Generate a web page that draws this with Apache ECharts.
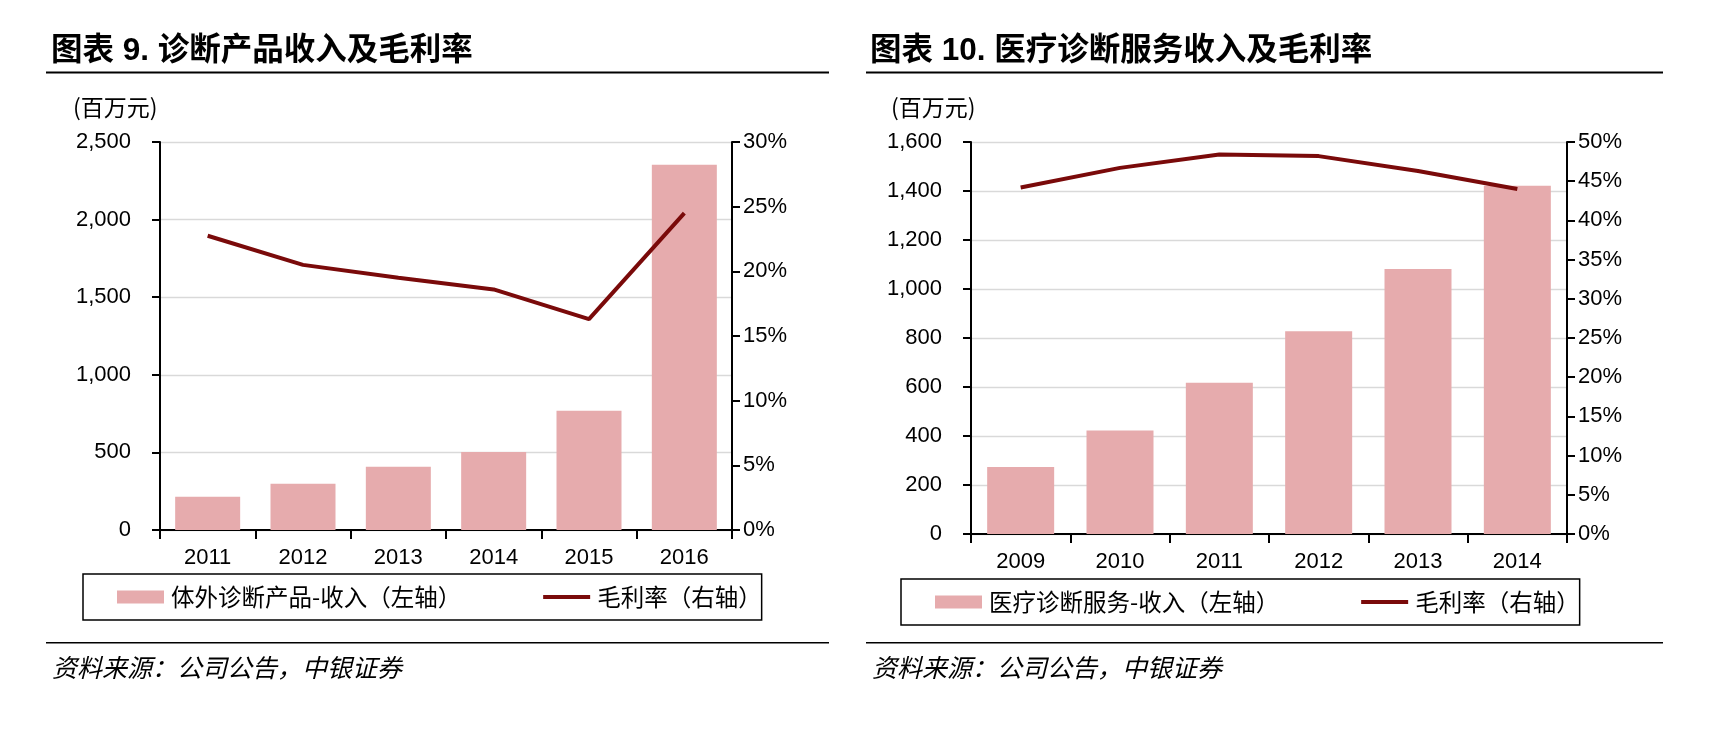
<!DOCTYPE html>
<html>
<head>
<meta charset="utf-8">
<script src="https://cdn.jsdelivr.net/npm/echarts@6/dist/echarts.min.js"></script>
<style>
html,body{margin:0;padding:0;background:#fff;}
#c{width:1720px;height:738px;}
</style>
</head>
<body>
<div id="c"></div>
<script>
// ---- data ----
const cats1 = ['2011', '2012', '2013', '2014', '2015', '2016'];
const rev1 = [214, 298, 408, 502, 768, 2354];
const margin1 = [22.75, 20.5, 19.5, 18.6, 16.3, 24.5];
const cats2 = ['2009', '2010', '2011', '2012', '2013', '2014'];
const rev2 = [273, 422, 617, 828, 1082, 1421];
const margin2 = [44.2, 46.7, 48.4, 48.2, 46.3, 44.0];
const title1 = '图表 9. 诊断产品收入及毛利率';
const title2 = '图表 10. 医疗诊断服务收入及毛利率';
const unitLabel = '(百万元)';
const source = '资料来源：公司公告，中银证券';
const barName1 = '体外诊断产品-收入（左轴）';
const barName2 = '医疗诊断服务-收入（左轴）';
const lineName = '毛利率（右轴）';
const leftAxis1 = {min: 0, max: 2500, interval: 500};
const rightAxis1 = {min: 0, max: 30, interval: 5};
const leftAxis2 = {min: 0, max: 1600, interval: 200};
const rightAxis2 = {min: 0, max: 50, interval: 5};

// ---- styles ----
const NUM_FONT = '"Liberation Sans", Arial, sans-serif';
const CJK_FONT = '"Noto Sans CJK SC", sans-serif';
const BAR_COLOR = '#E6ABAD';
const LINE_COLOR = '#7A0A0A';
const GRID_COLOR = '#D9D9D9';
const LINE_ICON = 'path://M0,0 L0,0 M0,4.5 L47,4.5 L47,8.5 L0,8.5 Z M47,13 L47,13';

const fmtThousands = v => String(v).replace(/\B(?=(\d{3})+(?!\d))/g, ',');

function leftY(gridIndex, cfg) {
  return {
    type: 'value', gridIndex, min: cfg.min, max: cfg.max, interval: cfg.interval,
    position: 'left',
    axisLine: {show: true, lineStyle: {color: '#000', width: 2}},
    axisTick: {show: true, length: 8, lineStyle: {color: '#000', width: 2}},
    axisLabel: {color: '#000', fontSize: 22, fontFamily: NUM_FONT, margin: 29, formatter: fmtThousands},
    splitLine: {show: true, lineStyle: {color: GRID_COLOR, width: 1.3}}
  };
}
function rightY(gridIndex, cfg) {
  return {
    type: 'value', gridIndex, min: cfg.min, max: cfg.max, interval: cfg.interval,
    position: 'right',
    axisLine: {show: true, lineStyle: {color: '#000', width: 2}},
    axisTick: {show: true, length: 8, lineStyle: {color: '#000', width: 2}},
    axisLabel: {color: '#000', fontSize: 22, fontFamily: NUM_FONT, margin: 11, formatter: v => v + '%'},
    splitLine: {show: false}
  };
}
function xCat(gridIndex, cats) {
  return {
    type: 'category', gridIndex, data: cats,
    axisLine: {show: true, lineStyle: {color: '#000', width: 2}},
    axisTick: {show: true, length: 9, lineStyle: {color: '#000', width: 2}},
    axisLabel: {color: '#000', fontSize: 22, fontFamily: NUM_FONT, margin: 17},
    splitLine: {show: false}
  };
}
function legendFor(left, top, barName) {
  return {
    left, top,
    orient: 'horizontal',
    padding: [11, 0, 11, 34],
    itemWidth: 47, itemHeight: 13, itemGap: 82,
    borderColor: '#000', borderWidth: 1.5, borderRadius: 0,
    selectedMode: false,
    textStyle: {fontSize: 23.5, lineHeight: 24, color: '#000', fontFamily: CJK_FONT, padding: [0, 0, 0, 2]},
    data: [{name: barName, icon: 'rect'}, {name: lineName, icon: LINE_ICON}]
  };
}

const chart = echarts.init(document.getElementById('c'), null, {renderer: 'canvas'});

const option = {
  animation: false,
  backgroundColor: '#fff',
  grid: [
    {left: 160, top: 142, width: 572, height: 388, containLabel: false},
    {left: 971, top: 142, width: 596, height: 392, containLabel: false}
  ],
  xAxis: [xCat(0, cats1), xCat(1, cats2)],
  yAxis: [leftY(0, leftAxis1), rightY(0, rightAxis1), leftY(1, leftAxis2), rightY(1, rightAxis2)],
  legend: [legendFor(83, 574, barName1), legendFor(901, 579, barName2)],
  series: [
    {name: barName1, type: 'bar', xAxisIndex: 0, yAxisIndex: 0, data: rev1, barWidth: 65,
     itemStyle: {color: BAR_COLOR}, z: 2},
    {name: lineName, type: 'line', xAxisIndex: 0, yAxisIndex: 1, data: margin1, symbol: 'none',
     lineStyle: {color: LINE_COLOR, width: 4}, itemStyle: {color: LINE_COLOR}, z: 3},
    {name: barName2, type: 'bar', xAxisIndex: 1, yAxisIndex: 2, data: rev2, barWidth: 67,
     itemStyle: {color: BAR_COLOR}, z: 2},
    {name: lineName, type: 'line', xAxisIndex: 1, yAxisIndex: 3, data: margin2, symbol: 'none',
     lineStyle: {color: LINE_COLOR, width: 4}, itemStyle: {color: LINE_COLOR}, z: 3}
  ],
  graphic: [
    {type: 'text', left: 51, top: 36, style: {text: title1, fontSize: 31.5, fontWeight: 'bold', fill: '#000',
      fontFamily: '"Liberation Sans", "Noto Sans CJK SC", sans-serif'}},
    {type: 'text', left: 870, top: 36, style: {text: title2, fontSize: 31.5, fontWeight: 'bold', fill: '#000',
      fontFamily: '"Liberation Sans", "Noto Sans CJK SC", sans-serif'}},
    {type: 'rect', shape: {x: 46, y: 71.5, width: 783, height: 2}, style: {fill: '#000'}},
    {type: 'rect', shape: {x: 866, y: 71.5, width: 797, height: 2}, style: {fill: '#000'}},
    {type: 'text', left: 73, top: 96, style: {text: unitLabel, fontSize: 23, fill: '#000', fontFamily: CJK_FONT}},
    {type: 'text', left: 891, top: 96, style: {text: unitLabel, fontSize: 23, fill: '#000', fontFamily: CJK_FONT}},
    {type: 'rect', shape: {x: 46, y: 642, width: 783, height: 1.5}, style: {fill: '#000'}},
    {type: 'rect', shape: {x: 866, y: 642, width: 797, height: 1.5}, style: {fill: '#000'}},
    {type: 'text', left: 52, top: 655, style: {text: source, fontSize: 25, fontStyle: 'italic', fill: '#000', fontFamily: CJK_FONT}},
    {type: 'text', left: 872, top: 655, style: {text: source, fontSize: 25, fontStyle: 'italic', fill: '#000', fontFamily: CJK_FONT}}
  ]
};
chart.setOption(option);
</script>
</body>
</html>
